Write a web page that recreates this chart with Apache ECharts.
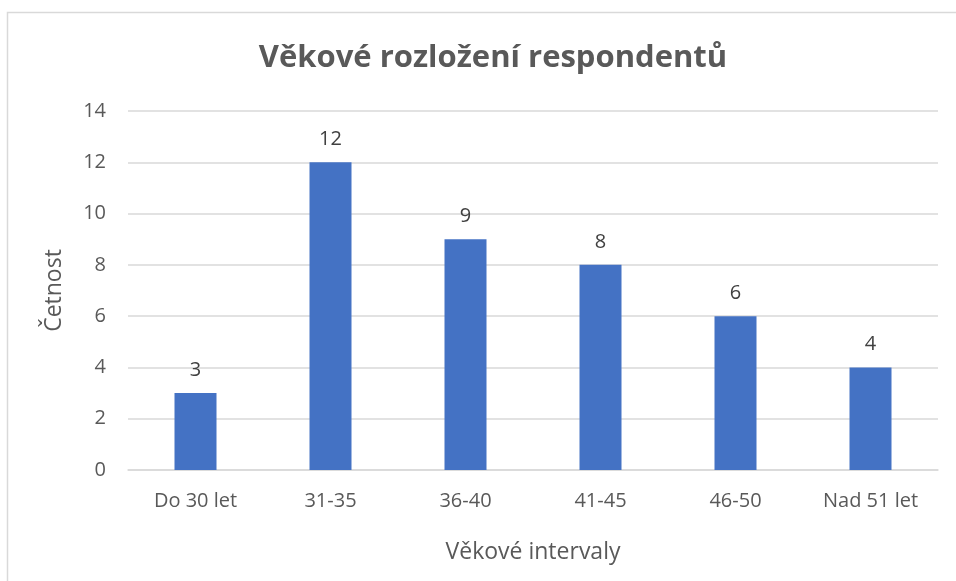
<!DOCTYPE html>
<html><head><meta charset="utf-8">
<script src="https://cdn.jsdelivr.net/npm/echarts@6/dist/echarts.min.js"></script>
<style>html,body{margin:0;padding:0;background:#fff}#c{width:956px;height:581px}</style>
</head><body><div id="c"></div>
<script>
const categories = ['Do 30 let','31-35','36-40','41-45','46-50','Nad 51 let'];
const values = [3,12,9,8,6,4];
const titleText = 'Věkové rozložení respondentů';
const yName = 'Četnost';
const xName = 'Věkové intervaly';
const FONT = 'Open Sans';
const chart = echarts.init(document.getElementById('c'));
chart.setOption({
  animation:false,
  backgroundColor:'#fff',
  graphic:[{type:'rect',shape:{x:7.5,y:12.5,width:960,height:600},style:{fill:'none',stroke:'#d9d9d9',lineWidth:1.5},silent:true}],
  title:{text:titleText,left:488,top:38,textAlign:'center',textStyle:{fontFamily:FONT,fontSize:31,fontWeight:'bold',color:'#595959'}},
  grid:{left:128,right:18,top:111,bottom:111},
  xAxis:{type:'category',data:categories,name:xName,nameLocation:'middle',nameGap:71,
    nameTextStyle:{fontFamily:FONT,fontSize:23,color:'#595959'},
    axisLine:{lineStyle:{color:'#d9d9d9',width:1.5}},axisTick:{show:false},
    axisLabel:{fontFamily:FONT,fontSize:20,color:'#595959',margin:21}},
  yAxis:{type:'value',min:0,max:14,interval:2,name:yName,nameLocation:'middle',nameGap:62,
    nameTextStyle:{fontFamily:FONT,fontSize:23,color:'#595959'},
    axisLine:{show:false},axisTick:{show:false},
    splitLine:{lineStyle:{color:'#d9d9d9',width:1.5}},
    axisLabel:{fontFamily:FONT,fontSize:20,color:'#595959',margin:22}},
  series:[{type:'bar',data:values,barWidth:42,itemStyle:{color:'#4472C4'},
    label:{show:true,position:'top',distance:13,fontFamily:FONT,fontSize:20,color:'#404040'}}]
});
</script></body></html>
